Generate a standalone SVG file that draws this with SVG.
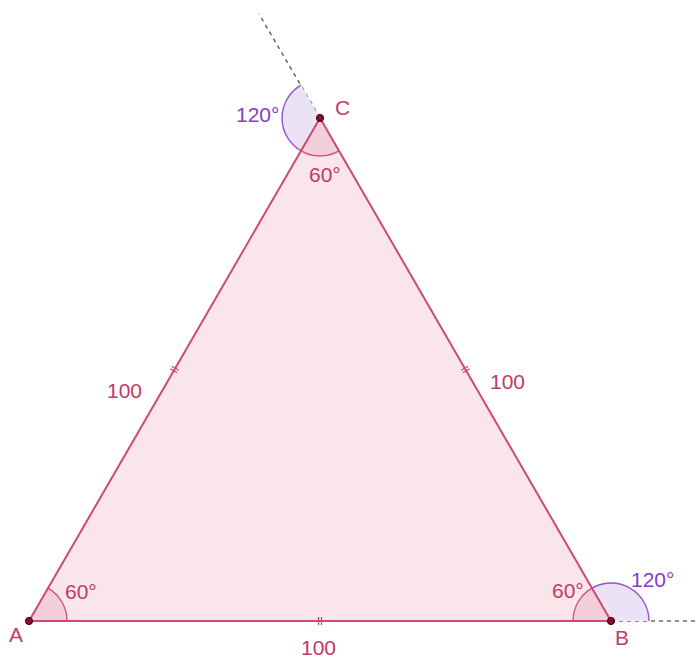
<svg xmlns="http://www.w3.org/2000/svg" width="699" height="658" viewBox="0 0 699 658">
<style>
.lbl{font-family:"Liberation Sans",Arial,sans-serif;font-size:21px;fill:#c23a66}
.plbl{font-family:"Liberation Sans",Arial,sans-serif;font-size:21px;fill:#8a3ac4}
.side{stroke:#cc4a74;stroke-width:2;fill:none}
.tick{stroke:#cc4a74;stroke-width:1.3}
.sec{fill:#f0c6d2;fill-opacity:0.7}
.secArc{fill:none;stroke:#d0527c;stroke-width:1.4}
.ext{fill:#ebe2f5}
.extArc{fill:none;stroke:#9a4fd0;stroke-width:1.4}
.dash{stroke:#666;stroke-width:1.5;stroke-dasharray:4 4;fill:none}
.pt{fill:#8a0d2e;stroke:#3a0010;stroke-width:1}
</style>
<rect width="699" height="658" fill="#fff"/>
<g id="extensions">
<line class="dash" x1="320" y1="118" x2="259" y2="14"/>
<line class="dash" x1="611" y1="621" x2="699" y2="621"/>
</g>
<g id="triangle">
<polygon points="29,621 611,621 320,118" fill="#fae5ea"/>
</g>
<g id="angles">
<path class="ext" d="M320,118 L301,85.1 A38,38 0 0 0 301,150.9 Z"/>
<path class="extArc" d="M301,85.1 A38,38 0 0 0 301,150.9"/>
<path class="ext" d="M611,621 L649,621 A38,38 0 0 0 592,588.1 Z"/>
<path class="extArc" d="M649,621 A38,38 0 0 0 592,588.1"/>
<path class="sec" d="M29,621 L67,621 A38,38 0 0 0 48,588.1 Z"/>
<path class="secArc" d="M67,621 A38,38 0 0 0 48,588.1"/>
<path class="sec" d="M611,621 L573,621 A38,38 0 0 1 592,588.1 Z"/>
<path class="secArc" d="M573,621 A38,38 0 0 1 592,588.1"/>
<path class="sec" d="M320,118 L301,150.9 A38,38 0 0 0 339,150.9 Z"/>
<path class="secArc" d="M301,150.9 A38,38 0 0 0 339,150.9"/>
</g>
<g id="sides">
<polygon class="side" points="29,621 611,621 320,118"/>
<line class="tick" x1="171.8" y1="366.2" x2="178.7" y2="370.2"/>
<line class="tick" x1="170.3" y1="368.8" x2="177.2" y2="372.8"/>
<line class="tick" x1="462.8" y1="372.8" x2="469.7" y2="368.8"/>
<line class="tick" x1="461.3" y1="370.2" x2="468.2" y2="366.2"/>
<line class="tick" x1="318.5" y1="617" x2="318.5" y2="625"/>
<line class="tick" x1="321.5" y1="617" x2="321.5" y2="625"/>
</g>
<g id="A"><circle class="pt" cx="29" cy="621" r="3.6"/><text class="lbl" x="9" y="642">A</text></g>
<g id="B"><circle class="pt" cx="611" cy="621" r="3.6"/><text class="lbl" x="615" y="645">B</text></g>
<g id="C"><circle class="pt" cx="320" cy="118" r="3.6"/><text class="lbl" x="335" y="115">C</text></g>
<g id="labels">
<text class="lbl" x="65" y="599">60°</text>
<text class="lbl" x="552" y="598">60°</text>
<text class="lbl" x="309" y="182">60°</text>
<text class="plbl" x="236" y="122">120°</text>
<text class="plbl" x="631" y="587">120°</text>
<text class="lbl" x="107" y="398">100</text>
<text class="lbl" x="490" y="389">100</text>
<text class="lbl" x="301" y="655">100</text>
</g>
</svg>
